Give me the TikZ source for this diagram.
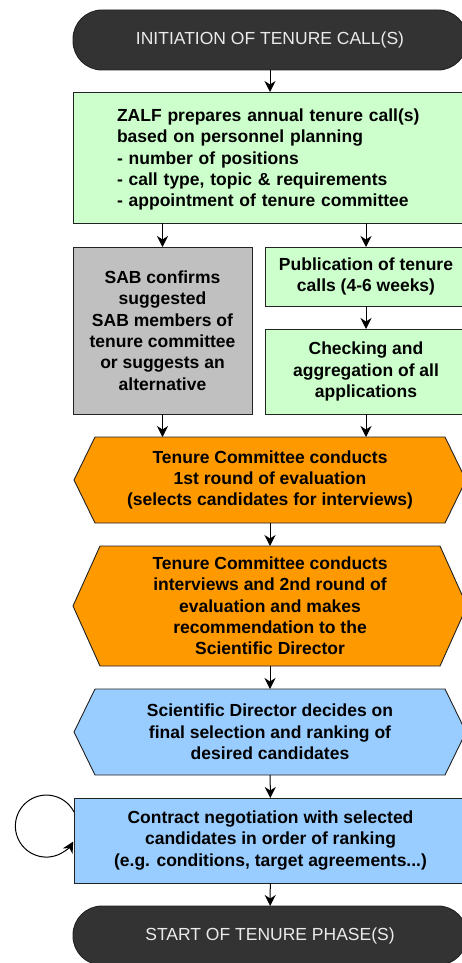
\documentclass[tikz,border=0pt]{standalone}
\usepackage{fontspec}
\setmainfont{Liberation Sans}
\usetikzlibrary{arrows.meta,backgrounds}
\definecolor{termfill}{HTML}{333333}
\definecolor{lgreen}{HTML}{CCFFCC}
\definecolor{lgrey}{HTML}{C0C0C0}
\definecolor{orng}{HTML}{FF9900}
\definecolor{lblue}{HTML}{99CCFF}
\definecolor{edge}{HTML}{222222}
\begin{document}
\begin{tikzpicture}[x=1pt,y=1pt,
  txt/.style={font=\fontsize{17.5}{21.3}\selectfont\bfseries},
  termbox/.style={draw=edge, line width=0.9pt, fill=termfill, rounded corners=29pt,
    text=white!92!black, font=\fontsize{17.5}{21}\selectfont, inner sep=0pt, outer sep=0pt},
  flowbox/.style={txt, draw=edge, line width=0.9pt, inner xsep=2pt, inner ysep=0pt, outer sep=0pt, align=center},
  hexnode/.style={txt, inner xsep=2pt, inner ysep=0pt, outer sep=0pt, align=center},
  hexline/.style={draw=edge, line width=0.9pt},
  arr/.style={line width=1pt, -{Stealth[length=11pt,width=11pt,inset=3.5pt]}}
]
\clip (0,0) rectangle (462,-963);
\useasboundingbox (0,0) rectangle (462,-963);

\node[termbox, minimum width=394pt, minimum height=60pt] (t1) at (270,-40) {INITIATION OF TENURE CALL(S)};

\node[flowbox, fill=lgreen, text width=306pt, align=left, inner xsep=44pt, minimum height=131pt] (zalf) at (270,-157.5)
  {\rule{0pt}{17pt}ZALF prepares annual tenure call(s)\\based on personnel planning\\- number of positions\\- call type, topic \& requirements\\- appointment of tenure committee};

\node[flowbox, fill=lgrey, minimum width=179pt, minimum height=167pt] (sab) at (162.5,-330.5)
  {SAB confirms\\suggested\\SAB members of\\tenure committee\\or suggests an\\alternative};

\node[flowbox, fill=lgreen, minimum width=202pt, minimum height=59pt] (pub) at (366,-276.5)
  {Publication of tenure\\calls (4-6 weeks)};

\node[flowbox, fill=lgreen, minimum width=202pt, minimum height=85pt] (chk) at (366,-371.5)
  {Checking and\\aggregation of all\\applications};

\node[hexnode, minimum width=392pt, minimum height=86pt] (h1) at (270,-480)
  {Tenure Committee conducts\\1st round of evaluation\\(selects candidates for interviews)};

\node[hexnode, minimum width=394pt, minimum height=120pt] (h2) at (270,-606)
  {Tenure Committee conducts\\interviews and 2nd round of\\evaluation and makes\\recommendation to the\\Scientific Director};

\node[hexnode, minimum width=392pt, minimum height=86pt] (h3) at (270,-732)
  {Scientific Director decides on\\final selection and ranking of\\desired candidates};

\node[flowbox, fill=lblue, minimum width=393pt, minimum height=85pt] (neg) at (270.5,-840.5)
  {Contract negotiation with selected\\candidates in order of ranking\\(e.g. conditions, target agreements...)};

\node[termbox, minimum width=394pt, minimum height=59pt] (t2) at (270,-935.5) {START OF TENURE PHASE(S)};

\begin{scope}[on background layer]
\draw[hexline, fill=orng] (h1.west) -- ([xshift=21pt]h1.north west) -- ([xshift=-21pt]h1.north east) -- (h1.east) -- ([xshift=-21pt]h1.south east) -- ([xshift=21pt]h1.south west) -- cycle;
\draw[hexline, fill=orng] (h2.west) -- ([xshift=27pt]h2.north west) -- ([xshift=-27pt]h2.north east) -- (h2.east) -- ([xshift=-27pt]h2.south east) -- ([xshift=27pt]h2.south west) -- cycle;
\draw[hexline, fill=lblue] (h3.west) -- ([xshift=21pt]h3.north west) -- ([xshift=-21pt]h3.north east) -- (h3.east) -- ([xshift=-21pt]h3.south east) -- ([xshift=21pt]h3.south west) -- cycle;
\end{scope}

\draw[arr] (t1) -- (zalf);
\draw[arr] (zalf.south -| sab.north) -- (sab.north);
\draw[arr] (zalf.south -| pub.north) -- (pub.north);
\draw[arr] (pub) -- (chk);
\draw[arr] (sab.south) -- (sab.south |- h1.north);
\draw[arr] (chk.south) -- (chk.south |- h1.north);
\draw[arr] (h1) -- (h2);
\draw[arr] (h2) -- (h3);
\draw[arr] (h3) -- (neg);
\draw[arr] (neg) -- (t2);
\draw[arr] ([yshift=28.5pt]neg.west) arc[start angle=27, end angle=330, radius=31pt];
\end{tikzpicture}
\end{document}
